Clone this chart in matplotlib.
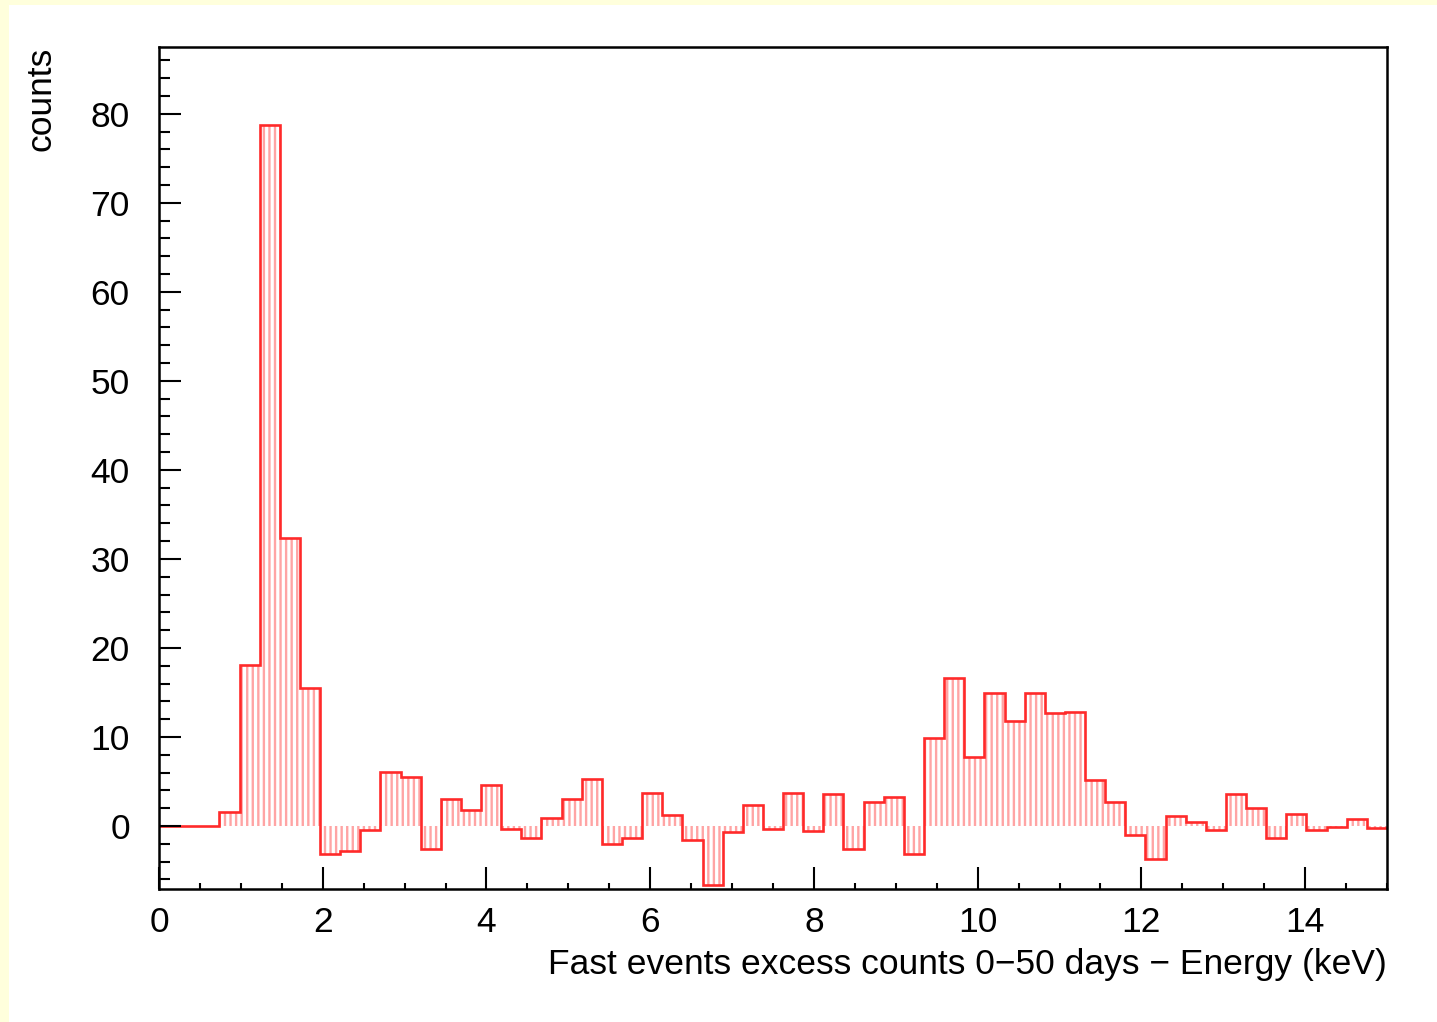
import numpy as np
import matplotlib.pyplot as plt
from matplotlib.patches import Rectangle
from matplotlib.ticker import MultipleLocator

# ================= DATA =================
# excess counts per energy bin, 61 equal bins between 0 and 15 keV
e_min, e_max = 0.0, 15.0
counts = [
    0.0, 0.0, 0.0, 1.6, 18.1, 78.7, 32.4, 15.5, -3.1, -2.8,
    -0.4, 6.1, 5.5, -2.6, 3.0, 1.8, 4.6, -0.3, -1.4, 0.9,
    3.0, 5.3, -2.0, -1.4, 3.7, 1.2, -1.6, -6.6, -0.7, 2.4,
    -0.3, 3.7, -0.6, 3.6, -2.6, 2.7, 3.3, -3.1, 9.9, 16.6,
    7.7, 14.9, 11.8, 14.9, 12.7, 12.8, 5.2, 2.7, -1.0, -3.7,
    1.1, 0.5, -0.5, 3.6, 2.0, -1.4, 1.4, -0.5, -0.1, 0.8,
    -0.2,
]
x_ticks = [0, 2, 4, 6, 8, 10, 12, 14]
y_ticks = [0, 10, 20, 30, 40, 50, 60, 70, 80]
x_label = "Fast events excess counts 0\u221250 days \u2212 Energy (keV)"
y_label = "counts"

# ================= STYLE =================
line_red = "#ff2a2a"
hatch_pink = "#ffa4a4"
plt.rcParams.update({
    "font.family": "Liberation Sans",
    "font.size": 25.5,
    "hatch.linewidth": 1.7,
})

# ================= PLOT =================
fig = plt.figure(figsize=(14.37, 10.22), dpi=100)
fig.patch.set_facecolor("#ffffdc")
# white pad inside the yellow canvas border
fig.add_artist(Rectangle((9 / 1437, 0), 1, 1 - 5 / 1022, transform=fig.transFigure,
                         facecolor="white", edgecolor="none", zorder=-1))

ax = fig.add_axes([159 / 1437, 133 / 1022, 1228 / 1437, 842 / 1022])
ax.set_facecolor("white")

edges = np.linspace(e_min, e_max, len(counts) + 1)
vals = np.array(counts)

# hatched fill between zero and the bin content
ax.stairs(vals, edges, baseline=0, fill=True, facecolor="none",
          edgecolor=hatch_pink, hatch="|||", linewidth=0)
# histogram outline
ax.stairs(vals, edges, baseline=None, color=line_red, linewidth=1.9)

ax.set_xlim(e_min, e_max)
ax.set_ylim(-7.08, 87.5)

ax.set_xticks(x_ticks)
ax.set_yticks(y_ticks)
ax.xaxis.set_minor_locator(MultipleLocator(0.5))
ax.yaxis.set_minor_locator(MultipleLocator(2))
ax.tick_params(axis="both", which="both", direction="in", width=1.5, color="black")
ax.tick_params(axis="x", which="major", length=16, pad=12)
ax.tick_params(axis="x", which="minor", length=4)
ax.tick_params(axis="y", which="major", length=16, pad=21)
ax.tick_params(axis="y", which="minor", length=8)

for s in ax.spines.values():
    s.set_linewidth(1.8)

ax.set_xlabel(x_label, loc="right")
ax.xaxis.set_label_coords(1.0, -0.07)
ax.xaxis.label.set_va("top")
ax.set_ylabel(y_label, loc="top")
ax.yaxis.set_label_coords(-0.083, 1.0)

fig.savefig("out.png", dpi=100, facecolor=fig.get_facecolor())
